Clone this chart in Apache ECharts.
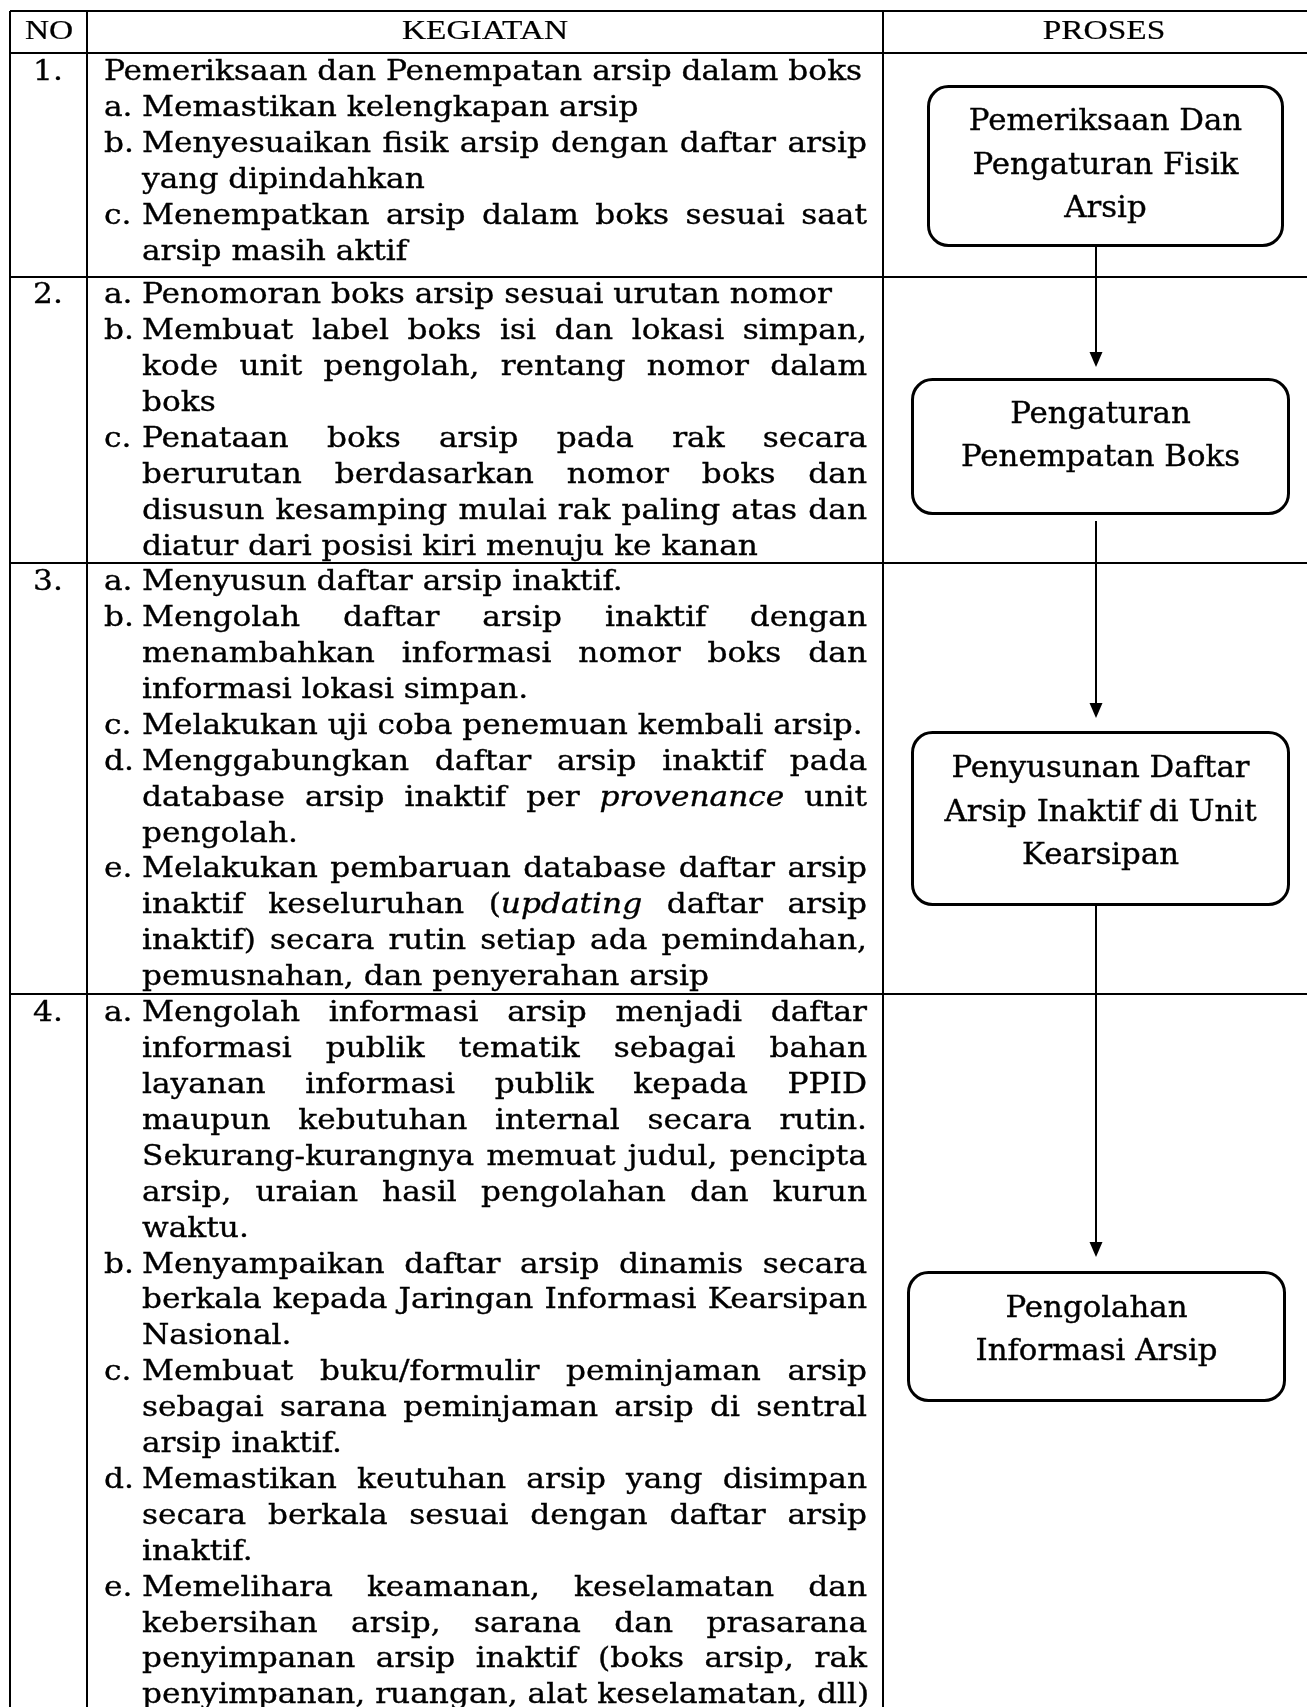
<!DOCTYPE html>
<html><head><meta charset="utf-8">
<script src="https://cdn.jsdelivr.net/npm/echarts@6/dist/echarts.min.js"></script>
<style>html,body{margin:0;padding:0;background:#fff}#c{width:1307px;height:1707px}</style>
</head><body><div id="c"></div><script>
// ---------- DATA ----------
const headers = ['NO', 'KEGIATAN', 'PROSES'];
const rowNumbers = ['1.', '2.', '3.', '4.'];
// words wrapped in _..._ are italic
const row1Items = [
  { label: '', lines: ['Pemeriksaan dan Penempatan arsip dalam boks'] },
  { label: 'a.', lines: ['Memastikan kelengkapan arsip'] },
  { label: 'b.', lines: ['Menyesuaikan fisik arsip dengan daftar arsip', 'yang dipindahkan'] },
  { label: 'c.', lines: ['Menempatkan arsip dalam boks sesuai saat', 'arsip masih aktif'] }
];
const row2Items = [
  { label: 'a.', lines: ['Penomoran boks arsip sesuai urutan nomor'] },
  { label: 'b.', lines: ['Membuat label boks isi dan lokasi simpan,', 'kode unit pengolah, rentang nomor dalam', 'boks'] },
  { label: 'c.', lines: ['Penataan boks arsip pada rak secara', 'berurutan berdasarkan nomor boks dan', 'disusun kesamping mulai rak paling atas dan', 'diatur dari posisi kiri menuju ke kanan'] }
];
const row3Items = [
  { label: 'a.', lines: ['Menyusun daftar arsip inaktif.'] },
  { label: 'b.', lines: ['Mengolah daftar arsip inaktif dengan', 'menambahkan informasi nomor boks dan', 'informasi lokasi simpan.'] },
  { label: 'c.', lines: ['Melakukan uji coba penemuan kembali arsip.'] },
  { label: 'd.', lines: ['Menggabungkan daftar arsip inaktif pada', 'database arsip inaktif per _provenance_ unit', 'pengolah.'] },
  { label: 'e.', lines: ['Melakukan pembaruan database daftar arsip', 'inaktif keseluruhan (_updating_ daftar arsip', 'inaktif) secara rutin setiap ada pemindahan,', 'pemusnahan, dan penyerahan arsip'] }
];
const row4Items = [
  { label: 'a.', lines: ['Mengolah informasi arsip menjadi daftar', 'informasi publik tematik sebagai bahan', 'layanan informasi publik kepada PPID', 'maupun kebutuhan internal secara rutin.', 'Sekurang-kurangnya memuat judul, pencipta', 'arsip, uraian hasil pengolahan dan kurun', 'waktu.'] },
  { label: 'b.', lines: ['Menyampaikan daftar arsip dinamis secara', 'berkala kepada Jaringan Informasi Kearsipan', 'Nasional.'] },
  { label: 'c.', lines: ['Membuat buku/formulir peminjaman arsip', 'sebagai sarana peminjaman arsip di sentral', 'arsip inaktif.'] },
  { label: 'd.', lines: ['Memastikan keutuhan arsip yang disimpan', 'secara berkala sesuai dengan daftar arsip', 'inaktif.'] },
  { label: 'e.', lines: ['Memelihara keamanan, keselamatan dan', 'kebersihan arsip, sarana dan prasarana', 'penyimpanan arsip inaktif (boks arsip, rak', 'penyimpanan, ruangan, alat keselamatan, dll)'] }
];
const rowItems = [row1Items, row2Items, row3Items, row4Items];
const processSteps = [
  ['Pemeriksaan Dan', 'Pengaturan Fisik', 'Arsip'],
  ['Pengaturan', 'Penempatan Boks'],
  ['Penyusunan Daftar', 'Arsip Inaktif di Unit', 'Kearsipan'],
  ['Pengolahan', 'Informasi Arsip']
];

// ---------- LAYOUT / STYLE ----------
const L = {
  hLines: [11, 53, 277, 563, 994],
  vLines: [10, 87, 883],
  right: 1307, bottom: 1707,
  headerY: 32, headerX: [49, 485, 1104],
  noX: 48, labelX: 104, textX: 142, textRight: 867,
  firstLineY: [73, 296, 583, 1014],
  lineGap: 35.9,
  boxes: [[927, 85, 1284, 247], [911, 378, 1290, 515], [911, 731, 1290, 906], [907, 1271, 1286, 1402]],
  boxTextMid: [166, 437, 813, 1331],
  boxLineGap: 43.5,
  arrowX: 1096,
  arrows: [[247, 367], [521, 718], [906, 1257]]
};
const BODY_FONT = '"DejaVu Serif", serif';
const HEAD_FONT = '"Liberation Serif", serif';
const bodyFs = 28, boxFs = 29, headFs = 27;
const TEXT_STROKE = 0.35;

const cv = document.createElement('canvas').getContext('2d');
function rawW(t, fs, fam, italic) { cv.font = (italic ? 'italic ' : '') + fs + 'px ' + fam; return cv.measureText(t).width; }
const sxBody = 690 / rawW('Penomoran boks arsip sesuai urutan nomor', bodyFs, BODY_FONT);
const sxBox = 279 / rawW('Penempatan Boks', boxFs, BODY_FONT);
const sxHead = 166 / rawW('KEGIATAN', headFs, HEAD_FONT);
function mw(t, it) { return rawW(t, bodyFs, BODY_FONT, it) * sxBody; }

const g = [];
function txt(t, x, y, o) {
  g.push({ type: 'text', x: x, y: y, scaleX: o.sx, silent: true, z: 10,
    style: { text: t, fontSize: o.fs, fontFamily: o.fam, fontStyle: o.it ? 'italic' : 'normal',
      fill: '#000', stroke: '#000', lineWidth: o.sw === undefined ? TEXT_STROKE : o.sw,
      align: o.align || 'left', verticalAlign: 'middle' } });
}
function line(x1, y1, x2, y2, w) {
  g.push({ type: 'line', silent: true, shape: { x1, y1, x2, y2 }, style: { stroke: '#000', lineWidth: w } });
}
function parseWord(w) { return w.split('_').map((t, i) => ({ t, it: i % 2 === 1 })).filter(p => p.t.length); }
function drawLine(str, x0, x1, y, justify) {
  const words = str.split(' ').map(parseWord);
  const widths = words.map(s => s.reduce((a, p) => a + mw(p.t, p.it), 0));
  const total = widths.reduce((a, b) => a + b, 0);
  let gap = mw(' ', false);
  if (justify && words.length > 1) gap = (x1 - x0 - total) / (words.length - 1);
  let x = x0;
  words.forEach(segs => {
    segs.forEach(p => { txt(p.t, x, y, { fs: bodyFs, fam: BODY_FONT, sx: sxBody, it: p.it }); x += mw(p.t, p.it); });
    x += gap;
  });
}

// table lines
L.hLines.forEach(y => line(L.vLines[0], y, L.right, y, 2));
L.vLines.forEach(x => line(x, L.hLines[0], x, L.bottom, 2));
// headers
headers.forEach((h, i) => txt(h, L.headerX[i], L.headerY, { fs: headFs, fam: HEAD_FONT, sx: sxHead, align: 'center', sw: 0.2 }));
// rows
rowItems.forEach((items, r) => {
  txt(rowNumbers[r], L.noX, L.firstLineY[r], { fs: bodyFs, fam: BODY_FONT, sx: sxBody, align: 'center' });
  let k = 0;
  items.forEach(item => {
    item.lines.forEach((ln, j) => {
      const y = L.firstLineY[r] + k * L.lineGap;
      let x0 = L.textX;
      if (!item.label) x0 = L.labelX;
      else if (j === 0) txt(item.label, L.labelX, y, { fs: bodyFs, fam: BODY_FONT, sx: sxBody });
      drawLine(ln, x0, L.textRight, y, j < item.lines.length - 1);
      k++;
    });
  });
});
// process boxes
processSteps.forEach((lines, i) => {
  const b = L.boxes[i];
  g.push({ type: 'rect', silent: true, shape: { x: b[0] + 1.5, y: b[1] + 1.5, width: b[2] - b[0] - 3, height: b[3] - b[1] - 3, r: 20 },
    style: { fill: '#fff', stroke: '#000', lineWidth: 3 } });
  const cx = (b[0] + b[2]) / 2;
  const y0 = L.boxTextMid[i] - (lines.length - 1) * L.boxLineGap / 2;
  lines.forEach((t, j) => txt(t, cx, y0 + j * L.boxLineGap, { fs: boxFs, fam: BODY_FONT, sx: sxBox, align: 'center' }));
});
// arrows
L.arrows.forEach(a => {
  const x = L.arrowX;
  line(x, a[0], x, a[1] - 12, 2);
  g.push({ type: 'polygon', silent: true, shape: { points: [[x - 6.5, a[1] - 15], [x + 6.5, a[1] - 15], [x, a[1]]] }, style: { fill: '#000' } });
});

const chart = echarts.init(document.getElementById('c'), null, { renderer: 'canvas' });
chart.setOption({ backgroundColor: '#fff', animation: false, graphic: { elements: g } });
</script></body></html>
